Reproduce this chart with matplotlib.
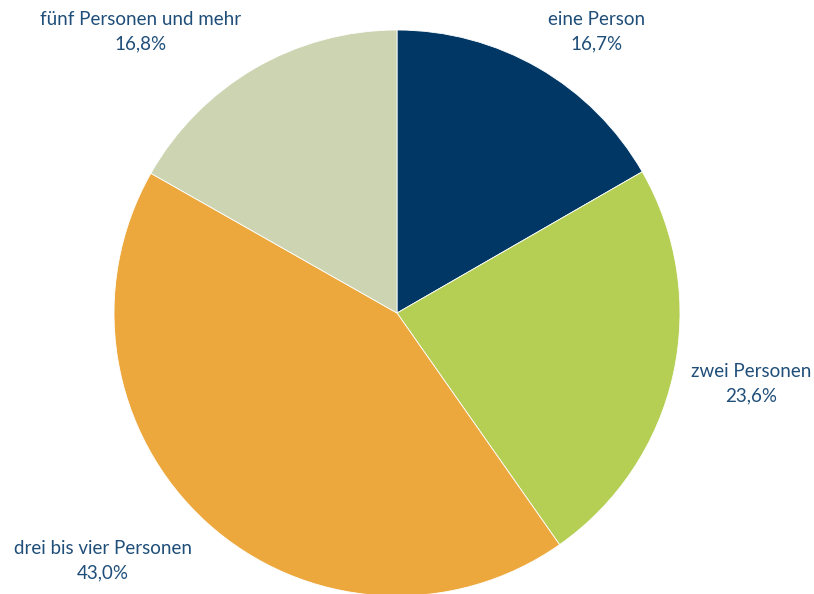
import matplotlib
matplotlib.use("Agg")
import matplotlib.pyplot as plt

# DATEN
labels = ["eine Person", "zwei Personen", "drei bis vier Personen", "fünf Personen und mehr"]
werte = [16.7, 23.6, 43.0, 16.8]
farben = ["#003764", "#b5cf55", "#eda83d", "#ccd4b1"]

textfarbe = "#1f4e79"
plt.rcParams["font.family"] = ["Lato", "DejaVu Sans"]

fig = plt.figure(figsize=(8.14, 5.94), dpi=100)
ax = fig.add_axes([0, 0, 1, 1])

ax.pie(werte, colors=farben, startangle=90, counterclock=False,
       center=(397, 281), radius=283,
       wedgeprops=dict(edgecolor="white", linewidth=0.6))

# Grenzen nach pie setzen (pie setzt sie sonst neu)
ax.set_xlim(0, 814)
ax.set_ylim(0, 594)
ax.set_aspect("equal")
ax.axis("off")

# Beschriftungen (Position in Pixel, y von oben)
pos = [(597, 32), (751, 384), (103, 561), (141, 32)]
for name, w, (x, y) in zip(labels, werte, pos):
    txt = name + "\n" + f"{w:.1f}".replace(".", ",") + "%"
    ax.text(x, 594 - y, txt, ha="center", va="center", fontsize=13.5,
            color=textfarbe, linespacing=1.55)

fig.savefig("out.png", dpi=100)
